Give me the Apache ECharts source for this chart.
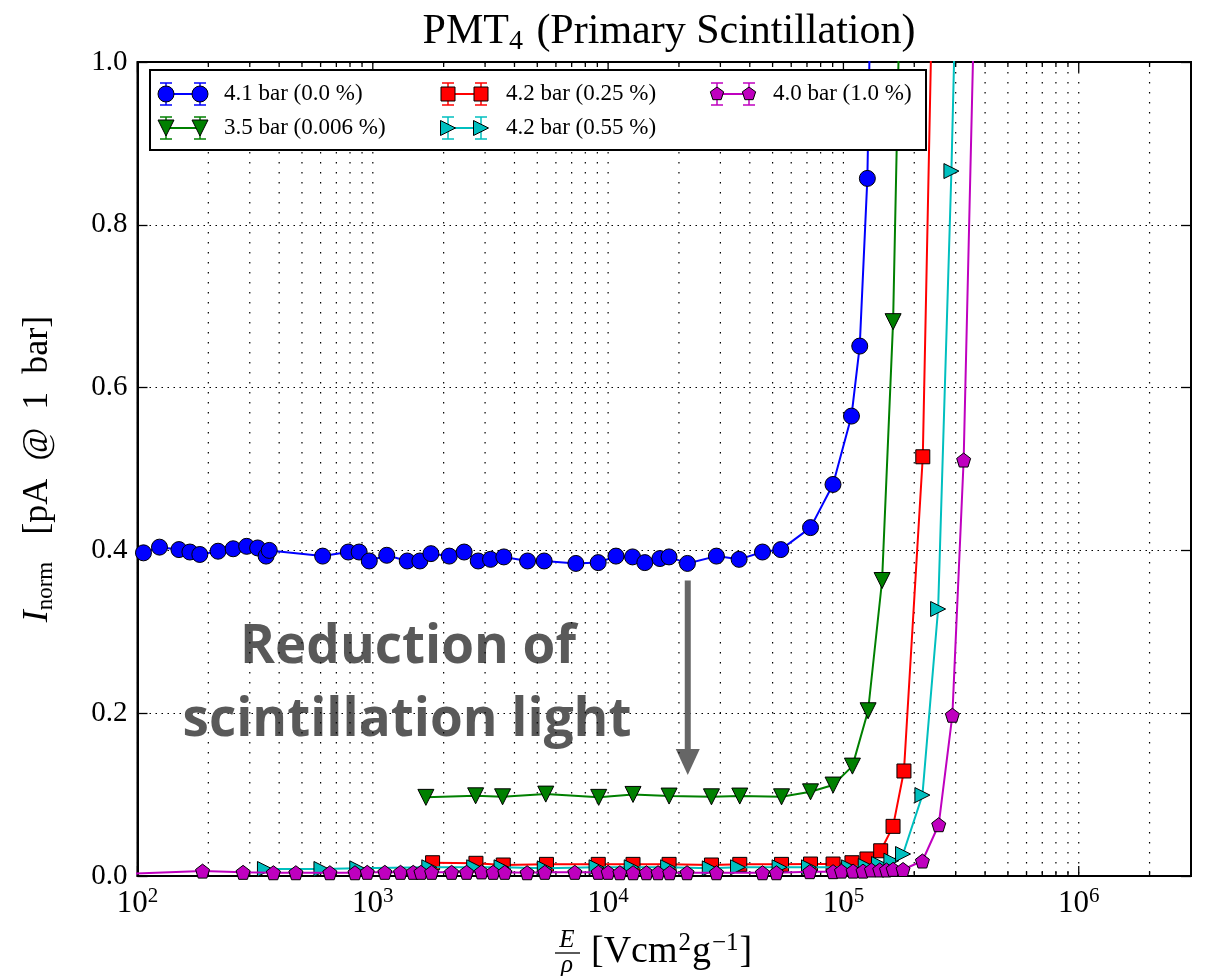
<!DOCTYPE html>
<html>
<head>
<meta charset="utf-8">
<script src="https://cdn.jsdelivr.net/npm/echarts@6/dist/echarts.min.js"></script>
<style>
html,body{margin:0;padding:0;background:#fff;}
#chart{width:1206px;height:976px;}
</style>
</head>
<body>
<div id="chart"></div>
<script>
// ---------------- DATA ----------------
const seriesNames = ['4.1 bar (0.0 %)', '3.5 bar (0.006 %)', '4.2 bar (0.25 %)', '4.2 bar (0.55 %)', '4.0 bar (1.0 %)'];

const blueX = [106,124,150,167,184,220,255,291,324,352,363,612,787,875,966,1146,1401,1585,1766,2113,2445,2805,3165,3604,4547,5349,7295,9075,10800,12700,14320,16600,18150,21730,28860,36030,45290,54170,72470,90300,108200,117300,126400,133500];
const blueY = [0.397,0.404,0.401,0.398,0.395,0.399,0.402,0.405,0.403,0.393,0.400,0.393,0.398,0.398,0.387,0.394,0.387,0.387,0.396,0.393,0.398,0.387,0.389,0.392,0.387,0.387,0.384,0.385,0.393,0.392,0.385,0.390,0.392,0.384,0.393,0.389,0.398,0.401,0.428,0.481,0.565,0.651,0.857,1.25];

const greenX = [1681,2735,3560,5433,9120,12760,18160,27490,36270,54580,72470,90370,109200,127300,146000,162600,178600];
const greenY = [0.0966,0.0985,0.0973,0.1006,0.0966,0.1002,0.0982,0.0973,0.0982,0.0973,0.1034,0.1117,0.135,0.203,0.363,0.681,1.25];

const redX = [1795,2743,3584,5470,9080,12760,18160,27490,36270,54580,72470,90370,108700,125900,144000,162500,180800,217400,245000];
const redY = [0.0163,0.0156,0.0135,0.0143,0.0143,0.0143,0.0143,0.0135,0.0143,0.0143,0.0147,0.0147,0.0163,0.0209,0.031,0.061,0.129,0.515,1.25];

const cyanX = [348,605,859,1738,2697,3525,5382,8930,12600,17990,27050,35650,53550,71400,105700,124400,141700,159900,179200,216600,252600,287700,309700];
const cyanY = [0.0086,0.0086,0.0094,0.0107,0.0107,0.0107,0.0094,0.0107,0.0107,0.0107,0.0094,0.0107,0.0107,0.0107,0.0107,0.0123,0.0147,0.0188,0.027,0.0994,0.328,0.866,1.25];

const magentaX = [80,189,281,378,471,657,840,947,1125,1312,1485,1601,1778,2162,2503,2897,3246,3638,4526,5382,7220,9080,10000,11220,12770,14550,16300,18270,21650,28860,45290,51900,71950,90370,98100,109900,121100,131500,142600,152400,162600,179200,216600,254100,290400,324300,372000];
const magentaY = [0.002,0.006,0.0045,0.004,0.004,0.004,0.004,0.0045,0.0045,0.0045,0.0045,0.0045,0.0045,0.0045,0.0045,0.005,0.0045,0.0045,0.004,0.0045,0.0045,0.0045,0.0045,0.004,0.004,0.004,0.004,0.004,0.004,0.004,0.004,0.004,0.0053,0.0053,0.006,0.006,0.006,0.0074,0.0074,0.0074,0.0082,0.008,0.0184,0.063,0.1975,0.511,1.25];

const yTicks = [0, 0.2, 0.4, 0.6, 0.8, 1.0];
const xMajor = [100, 1000, 10000, 100000, 1000000];
const xMinor = [];
for (let d = 2; d <= 6; d++) for (let k = 2; k <= 9; k++) { const v = k * Math.pow(10, d); if (v < 3e6) xMinor.push(v); }

const titleText = ['PMT', '4', ' (Primary Scintillation)'];
const annotationLines = ['Reduction of', 'scintillation light'];
const arrowFrom = [21800, 0.363];
const arrowTo = [21800, 0.124];

// ---------------- STYLE ----------------
const colors = ['#0000ff', '#008000', '#ff0000', '#00bfbf', '#bf00bf'];
const symbols = [
  'circle',
  'path://M0,0 L10,0 L5,10 Z',
  'rect',
  'path://M0,0 L10,5 L0,10 Z',
  'path://M0,-10 L9.51,-3.09 L5.88,8.09 L-5.88,8.09 L-9.51,-3.09 Z'
];
const sizes = [16, 16, 14, 15, 14];
const SERIF = '"Liberation Serif", "DejaVu Serif", serif';

const xs = [blueX, greenX, redX, cyanX, magentaX];
const ys = [blueY, greenY, redY, cyanY, magentaY];

const dataSeries = seriesNames.map((name, i) => ({
  name: name,
  type: 'line',
  xAxisIndex: 0, yAxisIndex: 0,
  data: xs[i].map((x, j) => [x, ys[i][j]]),
  symbol: symbols[i],
  symbolSize: sizes[i],
  showAllSymbol: true,
  clip: true,
  z: 3 + i,
  lineStyle: { color: colors[i], width: 2 },
  itemStyle: { color: colors[i], borderColor: '#000', borderWidth: 1 },
  emphasis: { disabled: true },
  animation: false
}));

const gridSeries = {
  type: 'custom',
  xAxisIndex: 0, yAxisIndex: 0,
  z: 1,
  silent: true,
  animation: false,
  data: xMajor.map(v => [v, 10]).concat(xMinor.map(v => [v, 5])),
  renderItem: function (params, api) {
    const x = api.coord([api.value(0), 0.5])[0];
    const cs = params.coordSys;
    const len = api.value(1);
    const top = cs.y, bot = cs.y + cs.height;
    return {
      type: 'group',
      children: [
        { type: 'line', shape: { x1: x, y1: top, x2: x, y2: bot }, style: { stroke: '#000', lineWidth: 1.2, lineDash: [1.5, 8.5] } },
        { type: 'line', shape: { x1: x, y1: bot, x2: x, y2: bot - len }, style: { stroke: '#000', lineWidth: 1.3 } },
        { type: 'line', shape: { x1: x, y1: top, x2: x, y2: top + len }, style: { stroke: '#000', lineWidth: 1.3 } }
      ]
    };
  }
};

const chart = echarts.init(document.getElementById('chart'), null, { renderer: 'canvas' });

const option = {
  backgroundColor: '#fff',
  animation: false,
  title: {
    text: '{a|' + titleText[0] + '}{s|' + titleText[1] + '}{a|' + titleText[2] + '}',
    left: 664, top: 3, textAlign: 'center',
    textStyle: {
      fontWeight: 'normal',
      rich: {
        a: { fontFamily: SERIF, fontSize: 42, fontWeight: 'normal', color: '#000', lineHeight: 48 },
        s: { fontFamily: SERIF, fontSize: 28, fontWeight: 'normal', color: '#000', verticalAlign: 'bottom', lineHeight: 48, padding: [15, 3, 0, 0] }
      }
    }
  },
  grid: { left: 137.5, right: 15, top: 62, bottom: 100, show: true, borderColor: '#000', borderWidth: 2, backgroundColor: 'transparent' },
  xAxis: [{
    type: 'log', logBase: 10, min: 100, max: 3e6,
    axisLine: { show: true, lineStyle: { color: '#000', width: 2 } },
    axisTick: { show: false },
    splitLine: { show: false },
    axisLabel: {
      margin: 10,
      formatter: function (v) {
        const e = Math.log10(v);
        const r = Math.round(e);
        if (Math.abs(e - r) > 1e-6) return '';
        return '{b|10}{s|' + r + '}';
      },
      rich: {
        b: { fontFamily: SERIF, fontSize: 31, color: '#000', lineHeight: 36 },
        s: { fontFamily: SERIF, fontSize: 21, color: '#000', verticalAlign: 'top', lineHeight: 36, padding: [0, 0, 14, 0] }
      }
    }
  }],
  yAxis: [{
    type: 'value', min: 0, max: 1, interval: 0.2, position: 'left',
    axisLine: { show: true, lineStyle: { color: '#000', width: 2 } },
    axisTick: { show: true, inside: true, length: 10, lineStyle: { color: '#000', width: 1.3 } },
    splitLine: { show: true, lineStyle: { color: '#000', width: 1.2, type: [1.5, 4.5] } },
    axisLabel: { margin: 10, fontFamily: SERIF, fontSize: 29, color: '#000', formatter: v => v.toFixed(1) },
    name: '{i|I}{sub|norm}{t|   [pA  @  1  bar]}',
    nameLocation: 'middle', nameGap: 80, nameRotate: 90,
    nameTextStyle: {
      rich: {
        i: { fontFamily: SERIF, fontStyle: 'italic', fontSize: 36, color: '#000', lineHeight: 40 },
        sub: { fontFamily: SERIF, fontSize: 23, color: '#000', verticalAlign: 'bottom', lineHeight: 40, padding: [14, 0, 0, 0] },
        t: { fontFamily: SERIF, fontSize: 36, color: '#000', lineHeight: 40 }
      }
    }
  }, {
    type: 'value', min: 0, max: 1, interval: 0.2, position: 'right',
    axisLine: { show: true, lineStyle: { color: '#000', width: 2 } },
    axisTick: { show: true, inside: true, length: 10, lineStyle: { color: '#000', width: 1.3 } },
    splitLine: { show: false },
    axisLabel: { show: false }
  }],
  series: [gridSeries].concat(dataSeries)
};
chart.setOption(option);

// ---------------- LEGEND + ANNOTATIONS (graphic) ----------------
function markerShape(i, cx, cy, s) {
  const st = { fill: colors[i], stroke: '#000', lineWidth: 1 };
  const h = s / 2;
  if (i === 0) return { type: 'circle', shape: { cx: cx, cy: cy, r: h }, style: st };
  if (i === 2) return { type: 'rect', shape: { x: cx - h, y: cy - h, width: s, height: s }, style: st };
  if (i === 1) return { type: 'polygon', shape: { points: [[cx - h, cy - h], [cx + h, cy - h], [cx, cy + h]] }, style: st };
  if (i === 3) return { type: 'polygon', shape: { points: [[cx - h, cy - h], [cx + h, cy], [cx - h, cy + h]] }, style: st };
  const pts = [];
  for (let k = 0; k < 5; k++) { const a = -Math.PI / 2 + k * 2 * Math.PI / 5; pts.push([cx + h * Math.cos(a), cy + h * Math.sin(a)]); }
  return { type: 'polygon', shape: { points: pts }, style: st };
}

const legendPos = [[166, 200, 224, 94], [166, 200, 224, 128], [448, 481, 506, 94], [448, 481, 506, 128], [717, 749, 773, 94]];
const graphics = [];
graphics.push({ type: 'rect', shape: { x: 150, y: 70, width: 776, height: 80 }, style: { fill: '#fff', stroke: '#000', lineWidth: 2 }, z: 100 });
seriesNames.forEach((name, i) => {
  const [m1, m2, tx, y] = legendPos[i];
  const c = colors[i];
  graphics.push({ type: 'line', shape: { x1: m1, y1: y, x2: m2, y2: y }, style: { stroke: c, lineWidth: 2 }, z: 101 });
  [m1, m2].forEach(mx => {
    graphics.push({ type: 'line', shape: { x1: mx, y1: y - 11, x2: mx, y2: y + 11 }, style: { stroke: c, lineWidth: 1.5 }, z: 101 });
    graphics.push({ type: 'line', shape: { x1: mx - 6, y1: y - 11, x2: mx + 6, y2: y - 11 }, style: { stroke: c, lineWidth: 1.5 }, z: 101 });
    graphics.push({ type: 'line', shape: { x1: mx - 6, y1: y + 11, x2: mx + 6, y2: y + 11 }, style: { stroke: c, lineWidth: 1.5 }, z: 101 });
    const m = markerShape(i, mx, y, sizes[i]);
    m.z = 102;
    graphics.push(m);
  });
  graphics.push({ type: 'text', x: tx, y: y, style: { text: name, font: '23px ' + SERIF, fill: '#000', verticalAlign: 'middle' }, z: 102 });
});

// x-axis title: E / rho [Vcm^2 g^-1]
graphics.push({ type: 'text', x: 567, y: 940, style: { text: 'E', font: 'italic 25px ' + SERIF, fill: '#000', align: 'center', verticalAlign: 'middle' } });
graphics.push({ type: 'line', shape: { x1: 555, y1: 953, x2: 580, y2: 953 }, style: { stroke: '#000', lineWidth: 1.3 } });
graphics.push({ type: 'text', x: 567, y: 965, style: { text: 'ρ', font: 'italic 25px ' + SERIF, fill: '#000', align: 'center', verticalAlign: 'middle' } });
graphics.push({ type: 'text', x: 591, y: 952, style: {
  text: '{a|[Vcm}{s|2}{a|g}{s|−1}{a|]}', verticalAlign: 'middle', align: 'left',
  rich: {
    a: { fontFamily: SERIF, fontSize: 38, fill: '#000', lineHeight: 42 },
    s: { fontFamily: SERIF, fontSize: 25, fill: '#000', verticalAlign: 'top', lineHeight: 42, padding: [0, 1, 16, 1] }
  }
} });

// annotation text
const ANN_FONT = 'bold 53px "Open Sans", Lato, sans-serif';
graphics.push({ type: 'text', x: 408, y: 648, style: { text: annotationLines[0], font: ANN_FONT, fill: '#595959', align: 'center', verticalAlign: 'middle' } });
graphics.push({ type: 'text', x: 407, y: 721, style: { text: annotationLines[1], font: ANN_FONT, fill: '#595959', align: 'center', verticalAlign: 'middle' } });

// arrow from data coords
const p0 = chart.convertToPixel({ xAxisIndex: 0, yAxisIndex: 0 }, arrowFrom);
const p1 = chart.convertToPixel({ xAxisIndex: 0, yAxisIndex: 0 }, arrowTo);
const headLen = 26, headW = 24;
graphics.push({ type: 'line', shape: { x1: p0[0], y1: p0[1], x2: p1[0], y2: p1[1] - headLen + 2 }, style: { stroke: '#666', lineWidth: 6 } });
graphics.push({ type: 'polygon', shape: { points: [[p1[0] - headW / 2, p1[1] - headLen], [p1[0] + headW / 2, p1[1] - headLen], [p1[0], p1[1]]] }, style: { fill: '#666' } });

chart.setOption({ graphic: graphics });
</script>
</body>
</html>
